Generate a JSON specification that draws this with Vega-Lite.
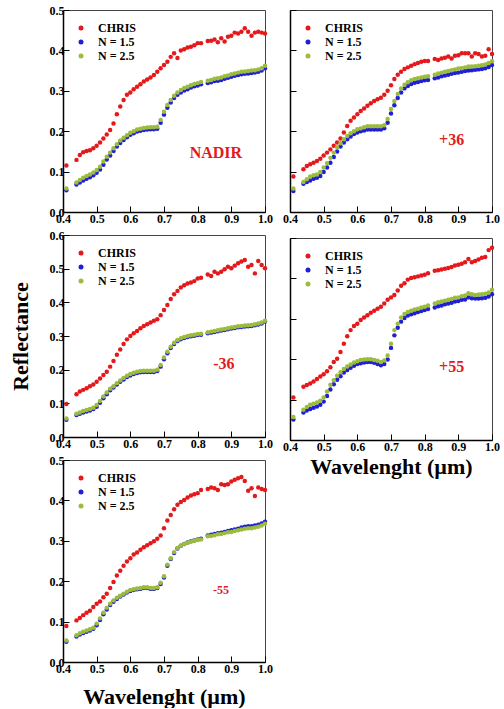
{
"$schema":"https://vega.github.io/schema/vega-lite/v6.json",
"background":"white",
"padding":{"left":8,"top":3,"right":0,"bottom":0},
"config":{
 "font":"Liberation Serif",
 "view":{"stroke":"#444","strokeWidth":1},
 "axis":{"labelFont":"Liberation Serif","labelFontWeight":"bold","labelFontSize":12,"labelColor":"black","tickSize":-6,"tickColor":"black","domainColor":"black","domainWidth":1.5,"labelPadding":5,"grid":false,"labelFlush":false,"labelOverlap":false,"titleFont":"Liberation Serif","titleFontWeight":"bold","titleFontSize":22,"titleColor":"black"},
 "axisX":{"labelPadding":7},
 "legend":{"orient":"none","legendX":12,"legendY":12,"padding":0,"symbolType":"circle","symbolSize":25,"symbolStrokeWidth":0,"labelFont":"Liberation Serif","labelFontWeight":"bold","labelFontSize":12,"labelOffset":11,"rowPadding":2}
},
"datasets":{
"p1":[
{"s":"c","w":0.41,"r":0.115},{"s":"c","w":0.44,"r":0.129},{"s":"c","w":0.45,"r":0.141},{"s":"c","w":0.46,"r":0.148},{"s":"c","w":0.47,"r":0.151},{"s":"c","w":0.48,"r":0.153},{"s":"c","w":0.49,"r":0.158},{"s":"c","w":0.5,"r":0.164},{"s":"c","w":0.51,"r":0.172},{"s":"c","w":0.52,"r":0.182},{"s":"c","w":0.53,"r":0.192},{"s":"c","w":0.54,"r":0.203},{"s":"c","w":0.55,"r":0.219},{"s":"c","w":0.56,"r":0.242},{"s":"c","w":0.57,"r":0.261},{"s":"c","w":0.58,"r":0.277},{"s":"c","w":0.59,"r":0.29},{"s":"c","w":0.6,"r":0.296},{"s":"c","w":0.61,"r":0.304},{"s":"c","w":0.62,"r":0.31},{"s":"c","w":0.63,"r":0.316},{"s":"c","w":0.64,"r":0.323},{"s":"c","w":0.65,"r":0.328},{"s":"c","w":0.66,"r":0.333},{"s":"c","w":0.67,"r":0.339},{"s":"c","w":0.68,"r":0.347},{"s":"c","w":0.69,"r":0.356},{"s":"c","w":0.7,"r":0.364},{"s":"c","w":0.71,"r":0.372},{"s":"c","w":0.72,"r":0.384},{"s":"c","w":0.73,"r":0.393},{"s":"c","w":0.74,"r":0.381},{"s":"c","w":0.75,"r":0.4},{"s":"c","w":0.76,"r":0.403},{"s":"c","w":0.77,"r":0.407},{"s":"c","w":0.78,"r":0.409},{"s":"c","w":0.79,"r":0.413},{"s":"c","w":0.8,"r":0.418},{"s":"c","w":0.81,"r":0.418},{"s":"c","w":0.83,"r":0.423},{"s":"c","w":0.84,"r":0.424},{"s":"c","w":0.85,"r":0.427},{"s":"c","w":0.86,"r":0.42},{"s":"c","w":0.87,"r":0.43},{"s":"c","w":0.88,"r":0.422},{"s":"c","w":0.89,"r":0.434},{"s":"c","w":0.9,"r":0.436},{"s":"c","w":0.91,"r":0.444},{"s":"c","w":0.92,"r":0.442},{"s":"c","w":0.93,"r":0.446},{"s":"c","w":0.94,"r":0.455},{"s":"c","w":0.95,"r":0.446},{"s":"c","w":0.96,"r":0.436},{"s":"c","w":0.97,"r":0.444},{"s":"c","w":0.98,"r":0.446},{"s":"c","w":0.99,"r":0.444},{"s":"c","w":1.0,"r":0.442},
{"s":"b","w":0.41,"r":0.054},{"s":"b","w":0.44,"r":0.068},{"s":"b","w":0.45,"r":0.073},{"s":"b","w":0.46,"r":0.078},{"s":"b","w":0.47,"r":0.082},{"s":"b","w":0.48,"r":0.086},{"s":"b","w":0.49,"r":0.091},{"s":"b","w":0.5,"r":0.097},{"s":"b","w":0.51,"r":0.105},{"s":"b","w":0.52,"r":0.117},{"s":"b","w":0.53,"r":0.13},{"s":"b","w":0.54,"r":0.14},{"s":"b","w":0.55,"r":0.151},{"s":"b","w":0.56,"r":0.162},{"s":"b","w":0.57,"r":0.171},{"s":"b","w":0.58,"r":0.178},{"s":"b","w":0.59,"r":0.185},{"s":"b","w":0.6,"r":0.191},{"s":"b","w":0.61,"r":0.195},{"s":"b","w":0.62,"r":0.199},{"s":"b","w":0.63,"r":0.201},{"s":"b","w":0.64,"r":0.203},{"s":"b","w":0.65,"r":0.204},{"s":"b","w":0.66,"r":0.205},{"s":"b","w":0.67,"r":0.205},{"s":"b","w":0.68,"r":0.206},{"s":"b","w":0.69,"r":0.221},{"s":"b","w":0.7,"r":0.241},{"s":"b","w":0.71,"r":0.258},{"s":"b","w":0.72,"r":0.271},{"s":"b","w":0.73,"r":0.282},{"s":"b","w":0.74,"r":0.29},{"s":"b","w":0.75,"r":0.296},{"s":"b","w":0.76,"r":0.301},{"s":"b","w":0.77,"r":0.304},{"s":"b","w":0.78,"r":0.308},{"s":"b","w":0.79,"r":0.311},{"s":"b","w":0.8,"r":0.313},{"s":"b","w":0.81,"r":0.316},{"s":"b","w":0.83,"r":0.319},{"s":"b","w":0.84,"r":0.321},{"s":"b","w":0.85,"r":0.324},{"s":"b","w":0.86,"r":0.325},{"s":"b","w":0.87,"r":0.327},{"s":"b","w":0.88,"r":0.33},{"s":"b","w":0.89,"r":0.332},{"s":"b","w":0.9,"r":0.335},{"s":"b","w":0.91,"r":0.337},{"s":"b","w":0.92,"r":0.339},{"s":"b","w":0.93,"r":0.341},{"s":"b","w":0.94,"r":0.342},{"s":"b","w":0.95,"r":0.343},{"s":"b","w":0.96,"r":0.344},{"s":"b","w":0.97,"r":0.345},{"s":"b","w":0.98,"r":0.347},{"s":"b","w":0.99,"r":0.35},{"s":"b","w":1.0,"r":0.356},
{"s":"g","w":0.41,"r":0.058},{"s":"g","w":0.44,"r":0.073},{"s":"g","w":0.45,"r":0.079},{"s":"g","w":0.46,"r":0.085},{"s":"g","w":0.47,"r":0.089},{"s":"g","w":0.48,"r":0.093},{"s":"g","w":0.49,"r":0.098},{"s":"g","w":0.5,"r":0.104},{"s":"g","w":0.51,"r":0.112},{"s":"g","w":0.52,"r":0.125},{"s":"g","w":0.53,"r":0.137},{"s":"g","w":0.54,"r":0.147},{"s":"g","w":0.55,"r":0.158},{"s":"g","w":0.56,"r":0.168},{"s":"g","w":0.57,"r":0.177},{"s":"g","w":0.58,"r":0.184},{"s":"g","w":0.59,"r":0.19},{"s":"g","w":0.6,"r":0.196},{"s":"g","w":0.61,"r":0.2},{"s":"g","w":0.62,"r":0.204},{"s":"g","w":0.63,"r":0.206},{"s":"g","w":0.64,"r":0.208},{"s":"g","w":0.65,"r":0.209},{"s":"g","w":0.66,"r":0.21},{"s":"g","w":0.67,"r":0.21},{"s":"g","w":0.68,"r":0.211},{"s":"g","w":0.69,"r":0.228},{"s":"g","w":0.7,"r":0.248},{"s":"g","w":0.71,"r":0.265},{"s":"g","w":0.72,"r":0.277},{"s":"g","w":0.73,"r":0.288},{"s":"g","w":0.74,"r":0.296},{"s":"g","w":0.75,"r":0.302},{"s":"g","w":0.76,"r":0.307},{"s":"g","w":0.77,"r":0.31},{"s":"g","w":0.78,"r":0.314},{"s":"g","w":0.79,"r":0.317},{"s":"g","w":0.8,"r":0.319},{"s":"g","w":0.81,"r":0.322},{"s":"g","w":0.83,"r":0.325},{"s":"g","w":0.84,"r":0.327},{"s":"g","w":0.85,"r":0.33},{"s":"g","w":0.86,"r":0.331},{"s":"g","w":0.87,"r":0.333},{"s":"g","w":0.88,"r":0.336},{"s":"g","w":0.89,"r":0.338},{"s":"g","w":0.9,"r":0.341},{"s":"g","w":0.91,"r":0.343},{"s":"g","w":0.92,"r":0.345},{"s":"g","w":0.93,"r":0.347},{"s":"g","w":0.94,"r":0.348},{"s":"g","w":0.95,"r":0.349},{"s":"g","w":0.96,"r":0.35},{"s":"g","w":0.97,"r":0.351},{"s":"g","w":0.98,"r":0.353},{"s":"g","w":0.99,"r":0.356},{"s":"g","w":1.0,"r":0.362}
],
"p2":[
{"s":"c","w":0.41,"r":0.088},{"s":"c","w":0.44,"r":0.106},{"s":"c","w":0.45,"r":0.114},{"s":"c","w":0.46,"r":0.118},{"s":"c","w":0.47,"r":0.122},{"s":"c","w":0.48,"r":0.126},{"s":"c","w":0.49,"r":0.132},{"s":"c","w":0.5,"r":0.14},{"s":"c","w":0.51,"r":0.147},{"s":"c","w":0.52,"r":0.155},{"s":"c","w":0.53,"r":0.164},{"s":"c","w":0.54,"r":0.172},{"s":"c","w":0.55,"r":0.182},{"s":"c","w":0.56,"r":0.197},{"s":"c","w":0.57,"r":0.213},{"s":"c","w":0.58,"r":0.226},{"s":"c","w":0.59,"r":0.234},{"s":"c","w":0.6,"r":0.242},{"s":"c","w":0.61,"r":0.25},{"s":"c","w":0.62,"r":0.256},{"s":"c","w":0.63,"r":0.263},{"s":"c","w":0.64,"r":0.269},{"s":"c","w":0.65,"r":0.275},{"s":"c","w":0.66,"r":0.279},{"s":"c","w":0.67,"r":0.283},{"s":"c","w":0.68,"r":0.29},{"s":"c","w":0.69,"r":0.3},{"s":"c","w":0.7,"r":0.314},{"s":"c","w":0.71,"r":0.329},{"s":"c","w":0.72,"r":0.34},{"s":"c","w":0.73,"r":0.347},{"s":"c","w":0.74,"r":0.354},{"s":"c","w":0.75,"r":0.358},{"s":"c","w":0.76,"r":0.362},{"s":"c","w":0.77,"r":0.366},{"s":"c","w":0.78,"r":0.369},{"s":"c","w":0.79,"r":0.372},{"s":"c","w":0.8,"r":0.374},{"s":"c","w":0.81,"r":0.374},{"s":"c","w":0.83,"r":0.379},{"s":"c","w":0.84,"r":0.376},{"s":"c","w":0.85,"r":0.38},{"s":"c","w":0.86,"r":0.382},{"s":"c","w":0.87,"r":0.385},{"s":"c","w":0.88,"r":0.38},{"s":"c","w":0.89,"r":0.387},{"s":"c","w":0.9,"r":0.388},{"s":"c","w":0.91,"r":0.393},{"s":"c","w":0.92,"r":0.393},{"s":"c","w":0.93,"r":0.393},{"s":"c","w":0.94,"r":0.385},{"s":"c","w":0.95,"r":0.393},{"s":"c","w":0.96,"r":0.391},{"s":"c","w":0.97,"r":0.385},{"s":"c","w":0.98,"r":0.387},{"s":"c","w":0.99,"r":0.403},{"s":"c","w":1.0,"r":0.391},
{"s":"b","w":0.41,"r":0.052},{"s":"b","w":0.44,"r":0.07},{"s":"b","w":0.45,"r":0.074},{"s":"b","w":0.46,"r":0.078},{"s":"b","w":0.47,"r":0.082},{"s":"b","w":0.48,"r":0.085},{"s":"b","w":0.49,"r":0.089},{"s":"b","w":0.5,"r":0.099},{"s":"b","w":0.51,"r":0.11},{"s":"b","w":0.52,"r":0.122},{"s":"b","w":0.53,"r":0.136},{"s":"b","w":0.54,"r":0.15},{"s":"b","w":0.55,"r":0.162},{"s":"b","w":0.56,"r":0.172},{"s":"b","w":0.57,"r":0.18},{"s":"b","w":0.58,"r":0.187},{"s":"b","w":0.59,"r":0.193},{"s":"b","w":0.6,"r":0.197},{"s":"b","w":0.61,"r":0.2},{"s":"b","w":0.62,"r":0.202},{"s":"b","w":0.63,"r":0.204},{"s":"b","w":0.64,"r":0.204},{"s":"b","w":0.65,"r":0.204},{"s":"b","w":0.66,"r":0.204},{"s":"b","w":0.67,"r":0.204},{"s":"b","w":0.68,"r":0.207},{"s":"b","w":0.69,"r":0.221},{"s":"b","w":0.7,"r":0.244},{"s":"b","w":0.71,"r":0.264},{"s":"b","w":0.72,"r":0.282},{"s":"b","w":0.73,"r":0.296},{"s":"b","w":0.74,"r":0.306},{"s":"b","w":0.75,"r":0.312},{"s":"b","w":0.76,"r":0.317},{"s":"b","w":0.77,"r":0.32},{"s":"b","w":0.78,"r":0.322},{"s":"b","w":0.79,"r":0.324},{"s":"b","w":0.8,"r":0.326},{"s":"b","w":0.81,"r":0.327},{"s":"b","w":0.83,"r":0.331},{"s":"b","w":0.84,"r":0.333},{"s":"b","w":0.85,"r":0.336},{"s":"b","w":0.86,"r":0.338},{"s":"b","w":0.87,"r":0.34},{"s":"b","w":0.88,"r":0.342},{"s":"b","w":0.89,"r":0.344},{"s":"b","w":0.9,"r":0.345},{"s":"b","w":0.91,"r":0.347},{"s":"b","w":0.92,"r":0.349},{"s":"b","w":0.93,"r":0.35},{"s":"b","w":0.94,"r":0.351},{"s":"b","w":0.95,"r":0.352},{"s":"b","w":0.96,"r":0.353},{"s":"b","w":0.97,"r":0.354},{"s":"b","w":0.98,"r":0.356},{"s":"b","w":0.99,"r":0.359},{"s":"b","w":1.0,"r":0.364},
{"s":"g","w":0.41,"r":0.058},{"s":"g","w":0.44,"r":0.074},{"s":"g","w":0.45,"r":0.081},{"s":"g","w":0.46,"r":0.088},{"s":"g","w":0.47,"r":0.091},{"s":"g","w":0.48,"r":0.093},{"s":"g","w":0.49,"r":0.099},{"s":"g","w":0.5,"r":0.11},{"s":"g","w":0.51,"r":0.121},{"s":"g","w":0.52,"r":0.134},{"s":"g","w":0.53,"r":0.147},{"s":"g","w":0.54,"r":0.16},{"s":"g","w":0.55,"r":0.17},{"s":"g","w":0.56,"r":0.18},{"s":"g","w":0.57,"r":0.188},{"s":"g","w":0.58,"r":0.195},{"s":"g","w":0.59,"r":0.2},{"s":"g","w":0.6,"r":0.205},{"s":"g","w":0.61,"r":0.207},{"s":"g","w":0.62,"r":0.21},{"s":"g","w":0.63,"r":0.212},{"s":"g","w":0.64,"r":0.212},{"s":"g","w":0.65,"r":0.212},{"s":"g","w":0.66,"r":0.212},{"s":"g","w":0.67,"r":0.212},{"s":"g","w":0.68,"r":0.215},{"s":"g","w":0.69,"r":0.23},{"s":"g","w":0.7,"r":0.255},{"s":"g","w":0.71,"r":0.275},{"s":"g","w":0.72,"r":0.292},{"s":"g","w":0.73,"r":0.306},{"s":"g","w":0.74,"r":0.315},{"s":"g","w":0.75,"r":0.321},{"s":"g","w":0.76,"r":0.326},{"s":"g","w":0.77,"r":0.329},{"s":"g","w":0.78,"r":0.331},{"s":"g","w":0.79,"r":0.333},{"s":"g","w":0.8,"r":0.335},{"s":"g","w":0.81,"r":0.336},{"s":"g","w":0.83,"r":0.34},{"s":"g","w":0.84,"r":0.343},{"s":"g","w":0.85,"r":0.345},{"s":"g","w":0.86,"r":0.347},{"s":"g","w":0.87,"r":0.349},{"s":"g","w":0.88,"r":0.351},{"s":"g","w":0.89,"r":0.353},{"s":"g","w":0.9,"r":0.355},{"s":"g","w":0.91,"r":0.356},{"s":"g","w":0.92,"r":0.358},{"s":"g","w":0.93,"r":0.36},{"s":"g","w":0.94,"r":0.36},{"s":"g","w":0.95,"r":0.361},{"s":"g","w":0.96,"r":0.362},{"s":"g","w":0.97,"r":0.363},{"s":"g","w":0.98,"r":0.365},{"s":"g","w":0.99,"r":0.369},{"s":"g","w":1.0,"r":0.373}
],
"p3":[
{"s":"c","w":0.41,"r":0.098},{"s":"c","w":0.44,"r":0.127},{"s":"c","w":0.45,"r":0.135},{"s":"c","w":0.46,"r":0.14},{"s":"c","w":0.47,"r":0.145},{"s":"c","w":0.48,"r":0.151},{"s":"c","w":0.49,"r":0.156},{"s":"c","w":0.5,"r":0.164},{"s":"c","w":0.51,"r":0.174},{"s":"c","w":0.52,"r":0.184},{"s":"c","w":0.53,"r":0.194},{"s":"c","w":0.54,"r":0.209},{"s":"c","w":0.55,"r":0.226},{"s":"c","w":0.56,"r":0.244},{"s":"c","w":0.57,"r":0.26},{"s":"c","w":0.58,"r":0.276},{"s":"c","w":0.59,"r":0.29},{"s":"c","w":0.6,"r":0.3},{"s":"c","w":0.61,"r":0.308},{"s":"c","w":0.62,"r":0.315},{"s":"c","w":0.63,"r":0.323},{"s":"c","w":0.64,"r":0.33},{"s":"c","w":0.65,"r":0.335},{"s":"c","w":0.66,"r":0.34},{"s":"c","w":0.67,"r":0.345},{"s":"c","w":0.68,"r":0.35},{"s":"c","w":0.69,"r":0.362},{"s":"c","w":0.7,"r":0.377},{"s":"c","w":0.71,"r":0.392},{"s":"c","w":0.72,"r":0.41},{"s":"c","w":0.73,"r":0.424},{"s":"c","w":0.74,"r":0.434},{"s":"c","w":0.75,"r":0.444},{"s":"c","w":0.76,"r":0.451},{"s":"c","w":0.77,"r":0.456},{"s":"c","w":0.78,"r":0.459},{"s":"c","w":0.79,"r":0.463},{"s":"c","w":0.8,"r":0.471},{"s":"c","w":0.81,"r":0.473},{"s":"c","w":0.83,"r":0.483},{"s":"c","w":0.84,"r":0.478},{"s":"c","w":0.85,"r":0.491},{"s":"c","w":0.86,"r":0.486},{"s":"c","w":0.87,"r":0.491},{"s":"c","w":0.88,"r":0.498},{"s":"c","w":0.89,"r":0.506},{"s":"c","w":0.9,"r":0.501},{"s":"c","w":0.91,"r":0.509},{"s":"c","w":0.92,"r":0.516},{"s":"c","w":0.93,"r":0.521},{"s":"c","w":0.94,"r":0.526},{"s":"c","w":0.95,"r":0.506},{"s":"c","w":0.96,"r":0.511},{"s":"c","w":0.97,"r":0.486},{"s":"c","w":0.98,"r":0.523},{"s":"c","w":0.99,"r":0.511},{"s":"c","w":1.0,"r":0.501},
{"s":"b","w":0.41,"r":0.051},{"s":"b","w":0.44,"r":0.065},{"s":"b","w":0.45,"r":0.069},{"s":"b","w":0.46,"r":0.073},{"s":"b","w":0.47,"r":0.076},{"s":"b","w":0.48,"r":0.079},{"s":"b","w":0.49,"r":0.083},{"s":"b","w":0.5,"r":0.09},{"s":"b","w":0.51,"r":0.102},{"s":"b","w":0.52,"r":0.115},{"s":"b","w":0.53,"r":0.127},{"s":"b","w":0.54,"r":0.139},{"s":"b","w":0.55,"r":0.147},{"s":"b","w":0.56,"r":0.156},{"s":"b","w":0.57,"r":0.164},{"s":"b","w":0.58,"r":0.171},{"s":"b","w":0.59,"r":0.178},{"s":"b","w":0.6,"r":0.183},{"s":"b","w":0.61,"r":0.187},{"s":"b","w":0.62,"r":0.19},{"s":"b","w":0.63,"r":0.192},{"s":"b","w":0.64,"r":0.193},{"s":"b","w":0.65,"r":0.193},{"s":"b","w":0.66,"r":0.193},{"s":"b","w":0.67,"r":0.193},{"s":"b","w":0.68,"r":0.196},{"s":"b","w":0.69,"r":0.209},{"s":"b","w":0.7,"r":0.231},{"s":"b","w":0.71,"r":0.249},{"s":"b","w":0.72,"r":0.264},{"s":"b","w":0.73,"r":0.276},{"s":"b","w":0.74,"r":0.285},{"s":"b","w":0.75,"r":0.29},{"s":"b","w":0.76,"r":0.294},{"s":"b","w":0.77,"r":0.297},{"s":"b","w":0.78,"r":0.299},{"s":"b","w":0.79,"r":0.301},{"s":"b","w":0.8,"r":0.303},{"s":"b","w":0.81,"r":0.304},{"s":"b","w":0.83,"r":0.308},{"s":"b","w":0.84,"r":0.31},{"s":"b","w":0.85,"r":0.312},{"s":"b","w":0.86,"r":0.314},{"s":"b","w":0.87,"r":0.316},{"s":"b","w":0.88,"r":0.318},{"s":"b","w":0.89,"r":0.32},{"s":"b","w":0.9,"r":0.322},{"s":"b","w":0.91,"r":0.324},{"s":"b","w":0.92,"r":0.326},{"s":"b","w":0.93,"r":0.327},{"s":"b","w":0.94,"r":0.328},{"s":"b","w":0.95,"r":0.329},{"s":"b","w":0.96,"r":0.33},{"s":"b","w":0.97,"r":0.332},{"s":"b","w":0.98,"r":0.334},{"s":"b","w":0.99,"r":0.337},{"s":"b","w":1.0,"r":0.343},
{"s":"g","w":0.41,"r":0.055},{"s":"g","w":0.44,"r":0.069},{"s":"g","w":0.45,"r":0.073},{"s":"g","w":0.46,"r":0.077},{"s":"g","w":0.47,"r":0.08},{"s":"g","w":0.48,"r":0.083},{"s":"g","w":0.49,"r":0.087},{"s":"g","w":0.5,"r":0.095},{"s":"g","w":0.51,"r":0.107},{"s":"g","w":0.52,"r":0.12},{"s":"g","w":0.53,"r":0.132},{"s":"g","w":0.54,"r":0.143},{"s":"g","w":0.55,"r":0.151},{"s":"g","w":0.56,"r":0.16},{"s":"g","w":0.57,"r":0.168},{"s":"g","w":0.58,"r":0.175},{"s":"g","w":0.59,"r":0.182},{"s":"g","w":0.6,"r":0.187},{"s":"g","w":0.61,"r":0.191},{"s":"g","w":0.62,"r":0.194},{"s":"g","w":0.63,"r":0.196},{"s":"g","w":0.64,"r":0.197},{"s":"g","w":0.65,"r":0.197},{"s":"g","w":0.66,"r":0.197},{"s":"g","w":0.67,"r":0.197},{"s":"g","w":0.68,"r":0.2},{"s":"g","w":0.69,"r":0.214},{"s":"g","w":0.7,"r":0.236},{"s":"g","w":0.71,"r":0.253},{"s":"g","w":0.72,"r":0.268},{"s":"g","w":0.73,"r":0.28},{"s":"g","w":0.74,"r":0.288},{"s":"g","w":0.75,"r":0.293},{"s":"g","w":0.76,"r":0.297},{"s":"g","w":0.77,"r":0.3},{"s":"g","w":0.78,"r":0.302},{"s":"g","w":0.79,"r":0.304},{"s":"g","w":0.8,"r":0.306},{"s":"g","w":0.81,"r":0.307},{"s":"g","w":0.83,"r":0.311},{"s":"g","w":0.84,"r":0.313},{"s":"g","w":0.85,"r":0.315},{"s":"g","w":0.86,"r":0.317},{"s":"g","w":0.87,"r":0.319},{"s":"g","w":0.88,"r":0.321},{"s":"g","w":0.89,"r":0.323},{"s":"g","w":0.9,"r":0.325},{"s":"g","w":0.91,"r":0.327},{"s":"g","w":0.92,"r":0.329},{"s":"g","w":0.93,"r":0.33},{"s":"g","w":0.94,"r":0.331},{"s":"g","w":0.95,"r":0.332},{"s":"g","w":0.96,"r":0.333},{"s":"g","w":0.97,"r":0.335},{"s":"g","w":0.98,"r":0.337},{"s":"g","w":0.99,"r":0.34},{"s":"g","w":1.0,"r":0.345}
],
"p4":[
{"s":"c","w":0.41,"r":0.105},{"s":"c","w":0.44,"r":0.132},{"s":"c","w":0.45,"r":0.136},{"s":"c","w":0.46,"r":0.14},{"s":"c","w":0.47,"r":0.145},{"s":"c","w":0.48,"r":0.151},{"s":"c","w":0.49,"r":0.157},{"s":"c","w":0.5,"r":0.163},{"s":"c","w":0.51,"r":0.17},{"s":"c","w":0.52,"r":0.18},{"s":"c","w":0.53,"r":0.193},{"s":"c","w":0.54,"r":0.201},{"s":"c","w":0.55,"r":0.218},{"s":"c","w":0.56,"r":0.238},{"s":"c","w":0.57,"r":0.257},{"s":"c","w":0.58,"r":0.272},{"s":"c","w":0.59,"r":0.282},{"s":"c","w":0.6,"r":0.288},{"s":"c","w":0.61,"r":0.297},{"s":"c","w":0.62,"r":0.303},{"s":"c","w":0.63,"r":0.309},{"s":"c","w":0.64,"r":0.315},{"s":"c","w":0.65,"r":0.32},{"s":"c","w":0.66,"r":0.325},{"s":"c","w":0.67,"r":0.33},{"s":"c","w":0.68,"r":0.338},{"s":"c","w":0.69,"r":0.347},{"s":"c","w":0.7,"r":0.353},{"s":"c","w":0.71,"r":0.359},{"s":"c","w":0.72,"r":0.37},{"s":"c","w":0.73,"r":0.382},{"s":"c","w":0.74,"r":0.388},{"s":"c","w":0.75,"r":0.397},{"s":"c","w":0.76,"r":0.401},{"s":"c","w":0.77,"r":0.403},{"s":"c","w":0.78,"r":0.405},{"s":"c","w":0.79,"r":0.407},{"s":"c","w":0.8,"r":0.409},{"s":"c","w":0.81,"r":0.413},{"s":"c","w":0.83,"r":0.419},{"s":"c","w":0.84,"r":0.42},{"s":"c","w":0.85,"r":0.422},{"s":"c","w":0.86,"r":0.424},{"s":"c","w":0.87,"r":0.426},{"s":"c","w":0.88,"r":0.428},{"s":"c","w":0.89,"r":0.432},{"s":"c","w":0.9,"r":0.434},{"s":"c","w":0.91,"r":0.436},{"s":"c","w":0.92,"r":0.44},{"s":"c","w":0.93,"r":0.448},{"s":"c","w":0.94,"r":0.44},{"s":"c","w":0.95,"r":0.443},{"s":"c","w":0.96,"r":0.447},{"s":"c","w":0.97,"r":0.451},{"s":"c","w":0.98,"r":0.453},{"s":"c","w":0.99,"r":0.47},{"s":"c","w":1.0,"r":0.476},
{"s":"b","w":0.41,"r":0.051},{"s":"b","w":0.44,"r":0.068},{"s":"b","w":0.45,"r":0.073},{"s":"b","w":0.46,"r":0.077},{"s":"b","w":0.47,"r":0.08},{"s":"b","w":0.48,"r":0.083},{"s":"b","w":0.49,"r":0.087},{"s":"b","w":0.5,"r":0.095},{"s":"b","w":0.51,"r":0.109},{"s":"b","w":0.52,"r":0.125},{"s":"b","w":0.53,"r":0.138},{"s":"b","w":0.54,"r":0.149},{"s":"b","w":0.55,"r":0.158},{"s":"b","w":0.56,"r":0.167},{"s":"b","w":0.57,"r":0.173},{"s":"b","w":0.58,"r":0.179},{"s":"b","w":0.59,"r":0.184},{"s":"b","w":0.6,"r":0.188},{"s":"b","w":0.61,"r":0.19},{"s":"b","w":0.62,"r":0.192},{"s":"b","w":0.63,"r":0.193},{"s":"b","w":0.64,"r":0.193},{"s":"b","w":0.65,"r":0.191},{"s":"b","w":0.66,"r":0.188},{"s":"b","w":0.67,"r":0.185},{"s":"b","w":0.68,"r":0.188},{"s":"b","w":0.69,"r":0.199},{"s":"b","w":0.7,"r":0.228},{"s":"b","w":0.71,"r":0.259},{"s":"b","w":0.72,"r":0.278},{"s":"b","w":0.73,"r":0.293},{"s":"b","w":0.74,"r":0.302},{"s":"b","w":0.75,"r":0.308},{"s":"b","w":0.76,"r":0.311},{"s":"b","w":0.77,"r":0.314},{"s":"b","w":0.78,"r":0.317},{"s":"b","w":0.79,"r":0.319},{"s":"b","w":0.8,"r":0.322},{"s":"b","w":0.81,"r":0.324},{"s":"b","w":0.83,"r":0.328},{"s":"b","w":0.84,"r":0.331},{"s":"b","w":0.85,"r":0.333},{"s":"b","w":0.86,"r":0.336},{"s":"b","w":0.87,"r":0.338},{"s":"b","w":0.88,"r":0.34},{"s":"b","w":0.89,"r":0.343},{"s":"b","w":0.9,"r":0.344},{"s":"b","w":0.91,"r":0.347},{"s":"b","w":0.92,"r":0.348},{"s":"b","w":0.93,"r":0.353},{"s":"b","w":0.94,"r":0.351},{"s":"b","w":0.95,"r":0.35},{"s":"b","w":0.96,"r":0.35},{"s":"b","w":0.97,"r":0.351},{"s":"b","w":0.98,"r":0.352},{"s":"b","w":0.99,"r":0.355},{"s":"b","w":1.0,"r":0.361},
{"s":"g","w":0.41,"r":0.057},{"s":"g","w":0.44,"r":0.075},{"s":"g","w":0.45,"r":0.082},{"s":"g","w":0.46,"r":0.087},{"s":"g","w":0.47,"r":0.09},{"s":"g","w":0.48,"r":0.093},{"s":"g","w":0.49,"r":0.097},{"s":"g","w":0.5,"r":0.105},{"s":"g","w":0.51,"r":0.12},{"s":"g","w":0.52,"r":0.137},{"s":"g","w":0.53,"r":0.148},{"s":"g","w":0.54,"r":0.159},{"s":"g","w":0.55,"r":0.168},{"s":"g","w":0.56,"r":0.176},{"s":"g","w":0.57,"r":0.182},{"s":"g","w":0.58,"r":0.187},{"s":"g","w":0.59,"r":0.192},{"s":"g","w":0.6,"r":0.195},{"s":"g","w":0.61,"r":0.198},{"s":"g","w":0.62,"r":0.199},{"s":"g","w":0.63,"r":0.2},{"s":"g","w":0.64,"r":0.2},{"s":"g","w":0.65,"r":0.198},{"s":"g","w":0.66,"r":0.196},{"s":"g","w":0.67,"r":0.193},{"s":"g","w":0.68,"r":0.197},{"s":"g","w":0.69,"r":0.209},{"s":"g","w":0.7,"r":0.238},{"s":"g","w":0.71,"r":0.272},{"s":"g","w":0.72,"r":0.288},{"s":"g","w":0.73,"r":0.303},{"s":"g","w":0.74,"r":0.312},{"s":"g","w":0.75,"r":0.317},{"s":"g","w":0.76,"r":0.32},{"s":"g","w":0.77,"r":0.323},{"s":"g","w":0.78,"r":0.325},{"s":"g","w":0.79,"r":0.328},{"s":"g","w":0.8,"r":0.33},{"s":"g","w":0.81,"r":0.333},{"s":"g","w":0.83,"r":0.338},{"s":"g","w":0.84,"r":0.341},{"s":"g","w":0.85,"r":0.343},{"s":"g","w":0.86,"r":0.345},{"s":"g","w":0.87,"r":0.347},{"s":"g","w":0.88,"r":0.349},{"s":"g","w":0.89,"r":0.352},{"s":"g","w":0.9,"r":0.353},{"s":"g","w":0.91,"r":0.356},{"s":"g","w":0.92,"r":0.358},{"s":"g","w":0.93,"r":0.363},{"s":"g","w":0.94,"r":0.361},{"s":"g","w":0.95,"r":0.359},{"s":"g","w":0.96,"r":0.36},{"s":"g","w":0.97,"r":0.361},{"s":"g","w":0.98,"r":0.362},{"s":"g","w":0.99,"r":0.365},{"s":"g","w":1.0,"r":0.372}
],
"p5":[
{"s":"c","w":0.41,"r":0.089},{"s":"c","w":0.44,"r":0.103},{"s":"c","w":0.45,"r":0.109},{"s":"c","w":0.46,"r":0.116},{"s":"c","w":0.47,"r":0.122},{"s":"c","w":0.48,"r":0.127},{"s":"c","w":0.49,"r":0.136},{"s":"c","w":0.5,"r":0.144},{"s":"c","w":0.51,"r":0.15},{"s":"c","w":0.52,"r":0.16},{"s":"c","w":0.53,"r":0.169},{"s":"c","w":0.54,"r":0.183},{"s":"c","w":0.55,"r":0.198},{"s":"c","w":0.56,"r":0.214},{"s":"c","w":0.57,"r":0.226},{"s":"c","w":0.58,"r":0.238},{"s":"c","w":0.59,"r":0.249},{"s":"c","w":0.6,"r":0.257},{"s":"c","w":0.61,"r":0.266},{"s":"c","w":0.62,"r":0.271},{"s":"c","w":0.63,"r":0.278},{"s":"c","w":0.64,"r":0.284},{"s":"c","w":0.65,"r":0.289},{"s":"c","w":0.66,"r":0.294},{"s":"c","w":0.67,"r":0.299},{"s":"c","w":0.68,"r":0.305},{"s":"c","w":0.69,"r":0.313},{"s":"c","w":0.7,"r":0.331},{"s":"c","w":0.71,"r":0.35},{"s":"c","w":0.72,"r":0.364},{"s":"c","w":0.73,"r":0.378},{"s":"c","w":0.74,"r":0.389},{"s":"c","w":0.75,"r":0.396},{"s":"c","w":0.76,"r":0.401},{"s":"c","w":0.77,"r":0.407},{"s":"c","w":0.78,"r":0.412},{"s":"c","w":0.79,"r":0.415},{"s":"c","w":0.8,"r":0.418},{"s":"c","w":0.81,"r":0.426},{"s":"c","w":0.83,"r":0.428},{"s":"c","w":0.84,"r":0.432},{"s":"c","w":0.85,"r":0.43},{"s":"c","w":0.86,"r":0.426},{"s":"c","w":0.87,"r":0.44},{"s":"c","w":0.88,"r":0.438},{"s":"c","w":0.89,"r":0.44},{"s":"c","w":0.9,"r":0.447},{"s":"c","w":0.91,"r":0.451},{"s":"c","w":0.92,"r":0.455},{"s":"c","w":0.93,"r":0.458},{"s":"c","w":0.94,"r":0.448},{"s":"c","w":0.95,"r":0.424},{"s":"c","w":0.96,"r":0.43},{"s":"c","w":0.97,"r":0.411},{"s":"c","w":0.98,"r":0.432},{"s":"c","w":0.99,"r":0.428},{"s":"c","w":1.0,"r":0.426},
{"s":"b","w":0.41,"r":0.05},{"s":"b","w":0.44,"r":0.063},{"s":"b","w":0.45,"r":0.068},{"s":"b","w":0.46,"r":0.072},{"s":"b","w":0.47,"r":0.075},{"s":"b","w":0.48,"r":0.078},{"s":"b","w":0.49,"r":0.082},{"s":"b","w":0.5,"r":0.091},{"s":"b","w":0.51,"r":0.104},{"s":"b","w":0.52,"r":0.118},{"s":"b","w":0.53,"r":0.13},{"s":"b","w":0.54,"r":0.141},{"s":"b","w":0.55,"r":0.149},{"s":"b","w":0.56,"r":0.156},{"s":"b","w":0.57,"r":0.162},{"s":"b","w":0.58,"r":0.167},{"s":"b","w":0.59,"r":0.172},{"s":"b","w":0.6,"r":0.176},{"s":"b","w":0.61,"r":0.178},{"s":"b","w":0.62,"r":0.18},{"s":"b","w":0.63,"r":0.181},{"s":"b","w":0.64,"r":0.183},{"s":"b","w":0.65,"r":0.183},{"s":"b","w":0.66,"r":0.181},{"s":"b","w":0.67,"r":0.181},{"s":"b","w":0.68,"r":0.183},{"s":"b","w":0.69,"r":0.193},{"s":"b","w":0.7,"r":0.209},{"s":"b","w":0.71,"r":0.238},{"s":"b","w":0.72,"r":0.255},{"s":"b","w":0.73,"r":0.27},{"s":"b","w":0.74,"r":0.281},{"s":"b","w":0.75,"r":0.288},{"s":"b","w":0.76,"r":0.292},{"s":"b","w":0.77,"r":0.296},{"s":"b","w":0.78,"r":0.299},{"s":"b","w":0.79,"r":0.301},{"s":"b","w":0.8,"r":0.303},{"s":"b","w":0.81,"r":0.305},{"s":"b","w":0.83,"r":0.313},{"s":"b","w":0.84,"r":0.315},{"s":"b","w":0.85,"r":0.317},{"s":"b","w":0.86,"r":0.319},{"s":"b","w":0.87,"r":0.32},{"s":"b","w":0.88,"r":0.322},{"s":"b","w":0.89,"r":0.324},{"s":"b","w":0.9,"r":0.326},{"s":"b","w":0.91,"r":0.328},{"s":"b","w":0.92,"r":0.33},{"s":"b","w":0.93,"r":0.333},{"s":"b","w":0.94,"r":0.335},{"s":"b","w":0.95,"r":0.336},{"s":"b","w":0.96,"r":0.336},{"s":"b","w":0.97,"r":0.338},{"s":"b","w":0.98,"r":0.34},{"s":"b","w":0.99,"r":0.343},{"s":"b","w":1.0,"r":0.347},
{"s":"g","w":0.41,"r":0.053},{"s":"g","w":0.44,"r":0.066},{"s":"g","w":0.45,"r":0.071},{"s":"g","w":0.46,"r":0.075},{"s":"g","w":0.47,"r":0.078},{"s":"g","w":0.48,"r":0.081},{"s":"g","w":0.49,"r":0.085},{"s":"g","w":0.5,"r":0.095},{"s":"g","w":0.51,"r":0.108},{"s":"g","w":0.52,"r":0.122},{"s":"g","w":0.53,"r":0.134},{"s":"g","w":0.54,"r":0.144},{"s":"g","w":0.55,"r":0.152},{"s":"g","w":0.56,"r":0.159},{"s":"g","w":0.57,"r":0.164},{"s":"g","w":0.58,"r":0.169},{"s":"g","w":0.59,"r":0.174},{"s":"g","w":0.6,"r":0.178},{"s":"g","w":0.61,"r":0.18},{"s":"g","w":0.62,"r":0.182},{"s":"g","w":0.63,"r":0.183},{"s":"g","w":0.64,"r":0.185},{"s":"g","w":0.65,"r":0.185},{"s":"g","w":0.66,"r":0.183},{"s":"g","w":0.67,"r":0.183},{"s":"g","w":0.68,"r":0.185},{"s":"g","w":0.69,"r":0.196},{"s":"g","w":0.7,"r":0.212},{"s":"g","w":0.71,"r":0.241},{"s":"g","w":0.72,"r":0.257},{"s":"g","w":0.73,"r":0.272},{"s":"g","w":0.74,"r":0.282},{"s":"g","w":0.75,"r":0.288},{"s":"g","w":0.76,"r":0.292},{"s":"g","w":0.77,"r":0.295},{"s":"g","w":0.78,"r":0.298},{"s":"g","w":0.79,"r":0.3},{"s":"g","w":0.8,"r":0.302},{"s":"g","w":0.81,"r":0.303},{"s":"g","w":0.83,"r":0.311},{"s":"g","w":0.84,"r":0.312},{"s":"g","w":0.85,"r":0.314},{"s":"g","w":0.86,"r":0.316},{"s":"g","w":0.87,"r":0.317},{"s":"g","w":0.88,"r":0.319},{"s":"g","w":0.89,"r":0.321},{"s":"g","w":0.9,"r":0.322},{"s":"g","w":0.91,"r":0.324},{"s":"g","w":0.92,"r":0.326},{"s":"g","w":0.93,"r":0.328},{"s":"g","w":0.94,"r":0.33},{"s":"g","w":0.95,"r":0.331},{"s":"g","w":0.96,"r":0.331},{"s":"g","w":0.97,"r":0.333},{"s":"g","w":0.98,"r":0.335},{"s":"g","w":0.99,"r":0.338},{"s":"g","w":1.0,"r":0.342}
]
},
"resolve":{"scale":{"color":"independent"},"legend":{"color":"independent"}},
"spacing":9,
"hconcat":[
{"vconcat":[
 {"width":202,"height":202,"data":{"name":"p1"},"layer":[
  {"mark":{"type":"point","filled":true,"size":20,"opacity":1},
   "encoding":{
    "x":{"field":"w","type":"quantitative","scale":{"domain":[0.4,1.0],"nice":false,"zero":false},"axis":{"values":[0.4,0.5,0.6,0.7,0.8,0.9,1.0],"format":".1f","title":null,"labelOverlap":false}},
    "y":{"field":"r","type":"quantitative","scale":{"domain":[0,0.5],"nice":false},"axis":{"values":[0,0.1,0.2,0.3,0.4,0.5],"format":".1f","title":null,"labelOverlap":false}},
    "color":{"field":"s","type":"nominal","scale":{"domain":["c","b","g"],"range":["#e4191c","#1f1fd6","#9cbc3c"]},"legend":{"title":null,"labelExpr":"datum.value == 'c' ? 'CHRIS' : datum.value == 'b' ? 'N = 1.5' : 'N = 2.5'","encode":{"labels":{"update":{"fill":{"signal":"datum.value == 'c' ? '#e4191c' : datum.value == 'b' ? '#2a2ad0' : '#9cbc3c'"}}}}}},
    "order":{"field":"s","sort":"ascending"}}},
  {"data":{"values":[{"t":"NADIR"}]},"mark":{"type":"text","font":"Liberation Serif","fontWeight":"bold","fontSize":16,"color":"#e4191c"},
   "encoding":{"x":{"datum":0.854,"type":"quantitative","axis":{"values":[0.4,0.5,0.6,0.7,0.8,0.9,1.0],"format":".1f","title":null,"labelOverlap":false}},"y":{"datum":0.146,"type":"quantitative","axis":{"values":[0,0.1,0.2,0.3,0.4,0.5],"format":".1f","title":null,"labelOverlap":false}},"text":{"field":"t"}}}
 ]},
 {"width":202,"height":202,"data":{"name":"p3"},"layer":[
  {"mark":{"type":"point","filled":true,"size":20,"opacity":1},
   "encoding":{
    "x":{"field":"w","type":"quantitative","scale":{"domain":[0.4,1.0],"nice":false,"zero":false},"axis":{"values":[0.4,0.5,0.6,0.7,0.8,0.9,1.0],"format":".1f","title":null,"labelOverlap":false}},
    "y":{"field":"r","type":"quantitative","scale":{"domain":[0,0.6],"nice":false},"axis":{"values":[0,0.1,0.2,0.3,0.4,0.5,0.6],"format":".1f","title":"Reflectance","titlePadding":17,"labelOverlap":false}},
    "color":{"field":"s","type":"nominal","scale":{"domain":["c","b","g"],"range":["#e4191c","#1f1fd6","#9cbc3c"]},"legend":{"title":null,"labelExpr":"datum.value == 'c' ? 'CHRIS' : datum.value == 'b' ? 'N = 1.5' : 'N = 2.5'","encode":{"labels":{"update":{"fill":{"signal":"datum.value == 'c' ? '#e4191c' : datum.value == 'b' ? '#2a2ad0' : '#9cbc3c'"}}}}}},
    "order":{"field":"s","sort":"ascending"}}},
  {"data":{"values":[{"t":"-36"}]},"mark":{"type":"text","font":"Liberation Serif","fontWeight":"bold","fontSize":16,"color":"#e4191c"},
   "encoding":{"x":{"datum":0.878,"type":"quantitative","axis":{"values":[0.4,0.5,0.6,0.7,0.8,0.9,1.0],"format":".1f","title":null,"labelOverlap":false}},"y":{"datum":0.217,"type":"quantitative","axis":{"values":[0,0.1,0.2,0.3,0.4,0.5,0.6],"format":".1f","title":"Reflectance","titlePadding":17,"labelOverlap":false}},"text":{"field":"t"}}}
 ]},
 {"width":202,"height":202,"data":{"name":"p5"},"layer":[
  {"mark":{"type":"point","filled":true,"size":20,"opacity":1},
   "encoding":{
    "x":{"field":"w","type":"quantitative","scale":{"domain":[0.4,1.0],"nice":false,"zero":false},"axis":{"values":[0.4,0.5,0.6,0.7,0.8,0.9,1.0],"format":".1f","title":"Wavelenght (µm)","titlePadding":12,"labelOverlap":false}},
    "y":{"field":"r","type":"quantitative","scale":{"domain":[0,0.5],"nice":false},"axis":{"values":[0,0.1,0.2,0.3,0.4,0.5],"format":".1f","title":null,"labelOverlap":false}},
    "color":{"field":"s","type":"nominal","scale":{"domain":["c","b","g"],"range":["#e4191c","#1f1fd6","#9cbc3c"]},"legend":{"title":null,"labelExpr":"datum.value == 'c' ? 'CHRIS' : datum.value == 'b' ? 'N = 1.5' : 'N = 2.5'","encode":{"labels":{"update":{"fill":{"signal":"datum.value == 'c' ? '#e4191c' : datum.value == 'b' ? '#2a2ad0' : '#9cbc3c'"}}}}}},
    "order":{"field":"s","sort":"ascending"}}},
  {"data":{"values":[{"t":"-55"}]},"mark":{"type":"text","font":"Liberation Serif","fontWeight":"bold","fontSize":12,"color":"#e4191c"},
   "encoding":{"x":{"datum":0.869,"type":"quantitative","axis":{"values":[0.4,0.5,0.6,0.7,0.8,0.9,1.0],"format":".1f","title":"Wavelenght (µm)","titlePadding":12,"labelOverlap":false}},"y":{"datum":0.178,"type":"quantitative","axis":{"values":[0,0.1,0.2,0.3,0.4,0.5],"format":".1f","title":null,"labelOverlap":false}},"text":{"field":"t"}}}
 ]}
],"spacing":3,"resolve":{"scale":{"color":"independent"},"legend":{"color":"independent"}}},
{"vconcat":[
 {"width":202,"height":202,"data":{"name":"p2"},"layer":[
  {"mark":{"type":"point","filled":true,"size":20,"opacity":1},
   "encoding":{
    "x":{"field":"w","type":"quantitative","scale":{"domain":[0.4,1.0],"nice":false,"zero":false},"axis":{"values":[0.4,0.5,0.6,0.7,0.8,0.9,1.0],"format":".1f","title":null,"labelOverlap":false}},
    "y":{"field":"r","type":"quantitative","scale":{"domain":[0,0.5],"nice":false},"axis":{"values":[0,0.1,0.2,0.3,0.4,0.5],"labels":false,"title":null}},
    "color":{"field":"s","type":"nominal","scale":{"domain":["c","b","g"],"range":["#e4191c","#1f1fd6","#9cbc3c"]},"legend":{"title":null,"labelExpr":"datum.value == 'c' ? 'CHRIS' : datum.value == 'b' ? 'N = 1.5' : 'N = 2.5'","encode":{"labels":{"update":{"fill":{"signal":"datum.value == 'c' ? '#e4191c' : datum.value == 'b' ? '#2a2ad0' : '#9cbc3c'"}}}}}},
    "order":{"field":"s","sort":"ascending"}}},
  {"data":{"values":[{"t":"+36"}]},"mark":{"type":"text","font":"Liberation Serif","fontWeight":"bold","fontSize":16,"color":"#e4191c"},
   "encoding":{"x":{"datum":0.88,"type":"quantitative","axis":{"values":[0.4,0.5,0.6,0.7,0.8,0.9,1.0],"format":".1f","title":null,"labelOverlap":false}},"y":{"datum":0.179,"type":"quantitative","axis":{"values":[0,0.1,0.2,0.3,0.4,0.5],"labels":false,"title":null}},"text":{"field":"t"}}}
 ]},
 {"width":202,"height":202,"data":{"name":"p4"},"layer":[
  {"mark":{"type":"point","filled":true,"size":20,"opacity":1},
   "encoding":{
    "x":{"field":"w","type":"quantitative","scale":{"domain":[0.4,1.0],"nice":false,"zero":false},"axis":{"values":[0.4,0.5,0.6,0.7,0.8,0.9,1.0],"format":".1f","title":"Wavelenght (µm)","titlePadding":4,"labelOverlap":false}},
    "y":{"field":"r","type":"quantitative","scale":{"domain":[0,0.5],"nice":false},"axis":{"values":[0,0.1,0.2,0.3,0.4,0.5],"labels":false,"title":null}},
    "color":{"field":"s","type":"nominal","scale":{"domain":["c","b","g"],"range":["#e4191c","#1f1fd6","#9cbc3c"]},"legend":{"title":null,"labelExpr":"datum.value == 'c' ? 'CHRIS' : datum.value == 'b' ? 'N = 1.5' : 'N = 2.5'","encode":{"labels":{"update":{"fill":{"signal":"datum.value == 'c' ? '#e4191c' : datum.value == 'b' ? '#2a2ad0' : '#9cbc3c'"}}}}}},
    "order":{"field":"s","sort":"ascending"}}},
  {"data":{"values":[{"t":"+55"}]},"mark":{"type":"text","font":"Liberation Serif","fontWeight":"bold","fontSize":16,"color":"#e4191c"},
   "encoding":{"x":{"datum":0.88,"type":"quantitative","axis":{"values":[0.4,0.5,0.6,0.7,0.8,0.9,1.0],"format":".1f","title":"Wavelenght (µm)","titlePadding":4,"labelOverlap":false}},"y":{"datum":0.181,"type":"quantitative","axis":{"values":[0,0.1,0.2,0.3,0.4,0.5],"labels":false,"title":null}},"text":{"field":"t"}}}
 ]}
],"spacing":12,"resolve":{"scale":{"color":"independent"},"legend":{"color":"independent"}}}
]
}
